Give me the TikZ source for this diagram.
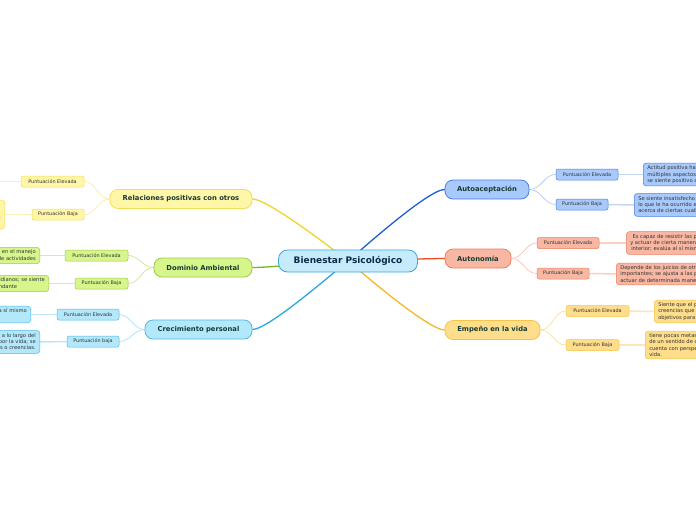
\documentclass[tikz,border=0pt]{standalone}
\usepackage{fontspec}
\setmainfont{DejaVu Sans}
\usetikzlibrary{positioning, calc}

\pgfdeclarelayer{fondo}
\pgfsetlayers{fondo,main}

% colores
\definecolor{cenF}{HTML}{C6ECFC}
\definecolor{cenB}{HTML}{3AA7E0}
\definecolor{txtA}{HTML}{0E2B48}
\definecolor{txtB}{HTML}{173C36}
\definecolor{txtC}{HTML}{333333}
\definecolor{relL}{HTML}{F2D32A}\definecolor{relF}{HTML}{FFF6A8}\definecolor{relB}{HTML}{F3DE5A}\definecolor{relT}{HTML}{F8EC9A}
\definecolor{domL}{HTML}{76B82A}\definecolor{domF}{HTML}{D6F68C}\definecolor{domB}{HTML}{9CCB46}\definecolor{domT}{HTML}{C4E585}
\definecolor{creL}{HTML}{2AA6E0}\definecolor{creF}{HTML}{B3E8FB}\definecolor{creB}{HTML}{4DB8E8}\definecolor{creT}{HTML}{A3DCF5}
\definecolor{autL}{HTML}{1D5FD1}\definecolor{autF}{HTML}{A8C9FB}\definecolor{autB}{HTML}{4A80DF}\definecolor{autT}{HTML}{A9C4F2}
\definecolor{nomL}{HTML}{EF4A24}\definecolor{nomF}{HTML}{F8B7A2}\definecolor{nomB}{HTML}{EF7E5C}\definecolor{nomT}{HTML}{F8BCA8}
\definecolor{empL}{HTML}{F6B824}\definecolor{empF}{HTML}{FEDD8B}\definecolor{empB}{HTML}{F7C44A}\definecolor{empT}{HTML}{FBDC93}

\tikzset{
  raiz/.style={draw=cenB, fill=cenF, line width=0.8pt, rounded corners=9pt,
    minimum height=22pt, inner sep=2pt, text=txtA,
    font=\fontsize{9}{10}\selectfont\bfseries},
  rama/.style={rounded corners=8pt, line width=0.8pt, minimum height=19pt,
    inner sep=2pt, text=txtB, font=\fontsize{6.8}{8}\selectfont\bfseries},
  punt/.style={rounded corners=2pt, line width=0.5pt, minimum height=11pt,
    inner sep=1pt, text=txtC, font=\fontsize{4.9}{6}\selectfont},
  hoja/.style={rounded corners=3pt, line width=0.5pt, align=center,
    inner xsep=4pt, inner ysep=2.5pt, text=txtC,
    font=\fontsize{5.2}{6.3}\selectfont},
  rel/.style={draw=relB, fill=relF}, dom/.style={draw=domB, fill=domF},
  cre/.style={draw=creB, fill=creF}, aut/.style={draw=autB, fill=autF},
  nom/.style={draw=nomB, fill=nomF}, emp/.style={draw=empB, fill=empF},
  eje/.style={line width=1.3pt, line cap=round},
  sub/.style={line width=0.6pt},
  hilo/.style={line width=1.5pt},
}

\begin{document}
\begin{tikzpicture}[x=1pt, y=1pt]
  \useasboundingbox (0,0) rectangle (696,-520);
  \clip (0,0) rectangle (696,-520);

  % nodo central y ramas
  \node[raiz, minimum width=139pt] (bp) at (348,-261) {Bienestar Psicológico};
  \node[rama, rel, minimum width=142pt] (rel) at (181,-199) {Relaciones positivas con otros};
  \node[rama, dom, minimum width=98pt] (dom) at (203,-267.5) {Dominio Ambiental};
  \node[rama, cre, minimum width=107pt] (cre) at (198.5,-329.5) {Crecimiento personal};
  \node[rama, aut, minimum width=84pt] (aut) at (487,-189.5) {Autoaceptación};
  \node[rama, nom, minimum width=66pt] (nom) at (478,-258.5) {Autonomía};
  \node[rama, emp, minimum width=95pt] (emp) at (492.5,-330) {Empeño en la vida};

  % puntuaciones
  \node[punt, rel, minimum width=63pt] (relE) at (52.5,-181.5) {Puntuación Elevada};
  \node[punt, rel, minimum width=52pt] (relB) at (58,-214.5) {Puntuación Baja};
  \node[punt, dom, minimum width=63pt] (domE) at (96.5,-255.5) {Puntuación Elevada};
  \node[punt, dom, minimum width=53pt] (domB) at (101.5,-283.5) {Puntuación Baja};
  \node[punt, cre, minimum width=62pt] (creE) at (88,-314.5) {Puntuación Elevada};
  \node[punt, cre, minimum width=52pt] (creB) at (93,-341.5) {Puntuación baja};
  \node[punt, aut, minimum width=62pt] (autE) at (587,-174.5) {Puntuación Elevada};
  \node[punt, aut, minimum width=52pt] (autB) at (582,-204.5) {Puntuación Baja};
  \node[punt, nom, minimum width=62pt] (nomE) at (568,-243) {Puntuación Elevada};
  \node[punt, nom, minimum width=52pt] (nomB) at (563,-273.5) {Puntuación Baja};
  \node[punt, emp, minimum width=63pt] (empE) at (597.5,-311) {Puntuación Elevada};
  \node[punt, emp, minimum width=53pt] (empB) at (592.5,-345) {Puntuación Baja};

  % descripciones
  \node[hoja, rel, anchor=east] (relEh) at (-10,-181.5) {Establece relaciones cálidas, satisfactorias\\y de confianza con los demás; se preocupa\\por el bienestar de los otros.};
  \node[hoja, rel, anchor=east] (relBh) at (5,-214.5) {Tiene pocas relaciones cercanas y de\\confianza con otros; le resulta difícil ser\\cálido, abierto y preocuparse por los demás;\\está aislado y frustrado.};
  \node[hoja, dom, anchor=east, align=right] (domEh) at (40,-255.5) {Tiene un sentido de dominio y competencia en el manejo\\del ambiente; controla un complejo abanico de actividades};
  \node[hoja, dom, anchor=east] (domBh) at (49,-283.5) {Tiene dificultades para manejar los asuntos cotidianos; se siente\\incapaz de mejorar el contexto circundante};
  \node[hoja, cre, anchor=east] (creEh) at (31,-314.5) {Tiene un sentimiento de desarrollo continuo; se ve a sí mismo\\en crecimiento y expansión};
  \node[hoja, cre, anchor=east, align=right] (creBh) at (40,-342) {Tiene sensación de estancamiento personal; no percibe mejora a lo largo del\\tiempo; se siente aburrido y sin interés por la vida; se\\siente incapaz de desarrollar nuevas actitudes o creencias.};
  \node[hoja, aut, anchor=west, align=left] (autEh) at (643,-174.5) {Actitud positiva hacia sí mismo; reconoce y acepta los\\múltiples aspectos de sí mismo, incluidos los buenos y malos;\\se siente positivo acerca de su vida pasada.};
  \node[hoja, aut, anchor=west, align=left] (autBh) at (634,-205) {Se siente insatisfecho consigo mismo; está decepcionado con\\lo que le ha ocurrido en su vida pasada; está preocupado\\acerca de ciertas cualidades personales.};
  \node[hoja, nom, anchor=west] (nomEh) at (626,-243) {Es capaz de resistir las presiones sociales para pensar\\y actuar de cierta manera; regula su conducta desde su\\interior; evalúa al sí mismo con estándares personales.};
  \node[hoja, nom, anchor=west, align=left] (nomBh) at (616,-274) {Depende de los juicios de otros para tomar decisiones\\importantes; se ajusta a las presiones sociales para pensar y\\actuar de determinada manera.};
  \node[hoja, emp, anchor=west, align=left] (empEh) at (654,-311.5) {Siente que el pasado y el presente tienen sentido; tiene\\creencias que dan propósito a la vida; tiene metas y\\objetivos para vivir.};
  \node[hoja, emp, anchor=west, align=left] (empBh) at (645,-345) {tiene pocas metas y objetivos; carece\\ de un sentido de dirección; no\\cuenta con perspectivas que den sentido a la\\vida.};

  \begin{pgfonlayer}{fondo}
    \fill[white] (0,0) rectangle (696,-520);
    % centro -> ramas
    \draw[eje, relL] (bp.center) to[out=142, in=0, looseness=0.35] (rel.east);
    \draw[eje, domL] (bp.center) to[out=180, in=0, looseness=0.6] (dom.east);
    \draw[eje, creL] (bp.center) to[out=218, in=0, looseness=0.35] (cre.east);
    \draw[eje, autL] (bp.center) to[out=40, in=180, looseness=0.35] (aut.west);
    \draw[eje, nomL] (bp.center) to[out=0, in=180, looseness=0.6] (nom.west);
    \draw[eje, empL] (bp.center) to[out=-40, in=180, looseness=0.35] (emp.west);

    % ramas -> puntuaciones
    \foreach \r/\c in {rel/relT, dom/domT, cre/creT} {
      \draw[sub, \c] (\r.west) to[out=180, in=0] (\r E.east);
      \draw[sub, \c] (\r.west) to[out=180, in=0] (\r B.east);
      \draw[hilo, \c!70] (\r E.west) -- (\r Eh.east);
      \draw[hilo, \c!70] (\r B.west) -- (\r Bh.east);
    }
    \foreach \r/\c in {aut/autT, nom/nomT, emp/empT} {
      \draw[sub, \c] (\r.east) to[out=0, in=180] (\r E.west);
      \draw[sub, \c] (\r.east) to[out=0, in=180] (\r B.west);
      \draw[hilo, \c!70] (\r E.east) -- (\r Eh.west);
      \draw[hilo, \c!70] (\r B.east) -- (\r Bh.west);
    }
  \end{pgfonlayer}
\end{tikzpicture}
\end{document}
